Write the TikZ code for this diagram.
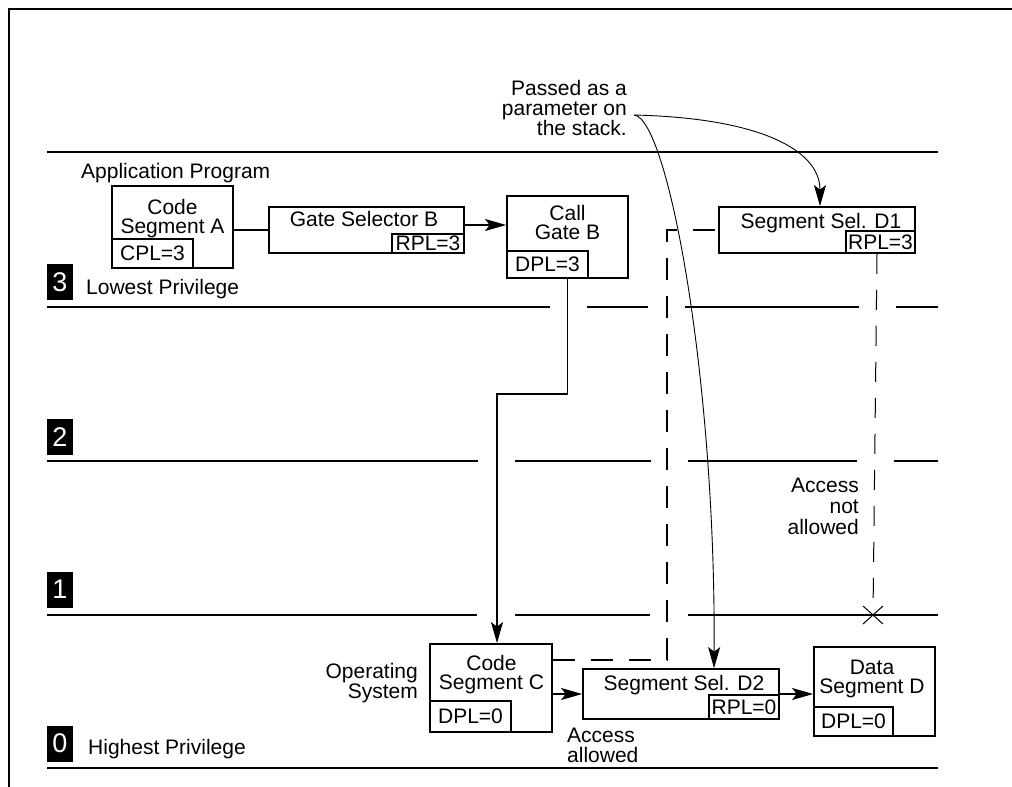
\documentclass[tikz,border=0pt]{standalone}
\usepackage{fontspec}
\setmainfont{Liberation Sans}
\usetikzlibrary{arrows.meta,calc}
\begin{document}
\begin{tikzpicture}[x=1pt,y=-1pt,
  every node/.style={inner sep=0pt},
  txt/.style={font=\fontsize{21}{19.5}\selectfont},
  frbox/.style={draw,line width=1.8pt},
  lvl/.style={line width=1.2pt},
  conn/.style={line width=1.2pt},
  arr/.style={conn,-{Stealth[length=21pt,width=12pt,inset=4.5pt]}},
  curvearr/.style={line width=0.9pt,-{Stealth[length=21pt,width=12pt,inset=4.5pt]}},
  thickdash/.style={line width=2.3pt,dash pattern=on 22pt off 16pt},
  thindash/.style={line width=1pt,dash pattern=on 20pt off 16pt},
  digit/.style={fill=black,text=white,minimum width=26pt,minimum height=36pt,font=\fontsize{27}{27}\selectfont},
]
\useasboundingbox (0,0) rectangle (1012,787);
% frame
\draw[line width=2.5pt] (9,800) -- (9,9) -- (1030,9);

% level lines
\draw[lvl] (47,152) -- (938,152);
\draw[lvl] (47,307) -- (550,307) (587,307) -- (648,307) (685,307) -- (859,307) (896,307) -- (938,307);
\draw[lvl] (47,461) -- (478,461) (515,461) -- (651,461) (688,461) -- (857,461) (894,461) -- (938,461);
\draw[lvl] (47,615) -- (477,615) (515,615) -- (650,615) (688,615) -- (938,615);
\draw[lvl] (47,768) -- (938,768);

% level digits
\node[digit] (l3) at (60,282) {3};
\node[digit] (l2) at (60,437) {2};
\node[digit] (l1) at (60,589.5) {1};
\node[digit] (l0) at (60,743.5) {0};
\node[txt,anchor=base west] (lowest) at (86,294) {Lowest Privilege};
\node[txt,anchor=base west] (highest) at (88,754) {Highest Privilege};
\node[txt,anchor=base west] (app) at (81,178) {Application Program};
\node[txt,align=right,anchor=north east,font=\fontsize{21}{20}\selectfont] (os) at (418,663.5) {Operating\\System};

% boxes
\node[frbox,minimum width=121pt,minimum height=82pt] (codeA) at (172.5,227) {};
\node[frbox,txt,minimum width=81pt,minimum height=29pt] (cpl) at (152.5,253.5) {CPL=3};
\node[txt,align=center,anchor=north] (codeAt) at (172.5,198.7) {Code\\Segment A};

\node[frbox,minimum width=195pt,minimum height=46pt] (gateSel) at (366.5,230) {};
\node[frbox,txt,minimum width=72pt,minimum height=19pt] (rplB) at (428,243.5) {RPL=3};
\node[txt,anchor=base] (gateSelt) at (364,226) {Gate Selector B};

\node[frbox,minimum width=121pt,minimum height=82pt] (callGate) at (567.5,237) {};
\node[frbox,txt,minimum width=81pt,minimum height=27pt] (dplB) at (547.5,264.5) {DPL=3};
\node[txt,align=center,anchor=north] (callGatet) at (567.5,204.7) {Call\\Gate B};

\node[frbox,minimum width=196pt,minimum height=46pt] (d1) at (817,230) {};
\node[frbox,txt,minimum width=69pt,minimum height=22pt] (rplD1) at (880.5,242) {RPL=3};
\node[txt,anchor=base] (d1t) at (821,228) {Segment Sel. D1};

\node[frbox,minimum width=122pt,minimum height=88pt] (codeC) at (491,688) {};
\node[frbox,txt,minimum width=81pt,minimum height=31pt] (dplC) at (470.5,716.5) {DPL=0};
\node[txt,align=center,anchor=north] (codeCt) at (491.5,654.7) {Code\\Segment C};

\node[frbox,minimum width=196pt,minimum height=50pt] (d2) at (681,694) {};
\node[frbox,txt,minimum width=70pt,minimum height=24pt] (rplD2) at (744,707) {RPL=0};
\node[txt,anchor=base] (d2t) at (684,690.7) {Segment Sel. D2};

\node[frbox,minimum width=121pt,minimum height=89pt] (dataD) at (874.5,691.5) {};
\node[frbox,txt,minimum width=79pt,minimum height=29pt] (dplD) at (853.5,721.5) {DPL=0};
\node[txt,align=center,anchor=north] (dataDt) at (872,659.6) {Data\\Segment D};

% annotations
\node[txt,align=right,anchor=north east,font=\fontsize{21}{20}\selectfont] (passed) at (627,79.7) {Passed as a\\parameter on\\the stack.};
\node[txt,align=right,anchor=north east,font=\fontsize{21}{21}\selectfont] (notallowed) at (859,477.7) {Access\\not\\allowed};
\node[txt,align=left,anchor=north west,font=\fontsize{21}{20.5}\selectfont] (allowed) at (567,727.5) {Access\\allowed};

% connectors
\draw[conn] (codeA.east |- gateSel.west) -- (gateSel.west);
\draw[arr] ([yshift=5pt]gateSel.east) -- ([yshift=12pt]callGate.west);
\draw[arr] (callGate.south) -- ++(0,115) -| ([xshift=6pt]codeC.north);
\draw[thickdash] ([yshift=28pt]codeC.east) -| ([xshift=-51pt]d1.west) -- (d1.west);
\draw[arr] ([yshift=-6pt]codeC.east) -- (d2.west);
\draw[arr] (d2.east) -- (d2.east -| dataD.west);

\coordinate (xm) at (873,615);
\draw[thindash] ([xshift=-3.5pt]rplD1.south) -- (xm);
\draw[line width=1pt] ([shift={(-10pt,9pt)}]xm) -- ([shift={(10pt,-9pt)}]xm)
                      ([shift={(-10pt,-9pt)}]xm) -- ([shift={(10pt,9pt)}]xm);

\coordinate (ps) at (634,115);
\draw[curvearr] (ps) .. controls (760,118) and (820,150) .. ([xshift=3pt]d1.north);
\draw[curvearr] (ps) .. controls (668,118) and (716,380) .. ([xshift=33pt]d2.north);
\end{tikzpicture}
\end{document}
